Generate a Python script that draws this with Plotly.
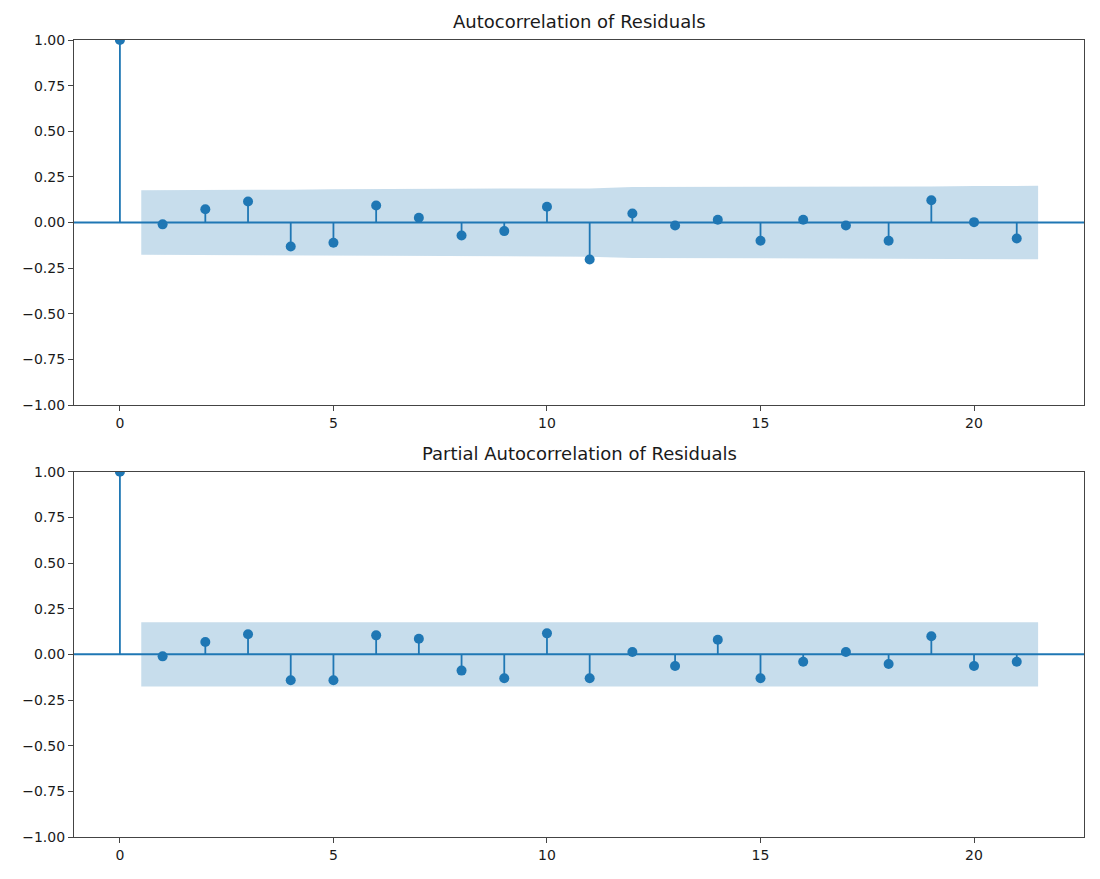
import plotly.graph_objects as go

# ---- data ----
lags = list(range(0, 22))
acf_vals = [1.0, -0.010, 0.073, 0.115, -0.131, -0.111, 0.093, 0.026, -0.071, -0.047,
            0.086, -0.203, 0.049, -0.016, 0.015, -0.100, 0.015, -0.016, -0.100, 0.122,
            0.002, -0.088]
pacf_vals = [1.0, -0.011, 0.068, 0.110, -0.142, -0.142, 0.104, 0.086, -0.089, -0.131,
             0.115, -0.131, 0.013, -0.064, 0.080, -0.131, -0.040, 0.013, -0.053, 0.099,
             -0.064, -0.040]
# confidence band half-widths for lags 1..21
acf_band = [0.177, 0.177, 0.178, 0.180, 0.182, 0.184, 0.185, 0.185, 0.186, 0.186,
            0.187, 0.194, 0.194, 0.194, 0.195, 0.196, 0.196, 0.196, 0.197, 0.200, 0.201]
pacf_band = [0.176] * 21
band_lags = [0.5] + list(range(2, 21)) + [21.5]

titles = ["Autocorrelation of Residuals", "Partial Autocorrelation of Residuals"]
x_ticks = [0, 5, 10, 15, 20]
y_ticks = [-1.0, -0.75, -0.5, -0.25, 0.0, 0.25, 0.5, 0.75, 1.0]

BLUE = "#1f77b4"
FONT = "DejaVu Sans"

fig = go.Figure()

panels = [
    (acf_vals, acf_band, "x", "y"),
    (pacf_vals, pacf_band, "x2", "y2"),
]

for vals, band, xa, ya in panels:
    # band
    bx = band_lags + band_lags[::-1]
    by = band + [-b for b in band[::-1]]
    fig.add_trace(go.Scatter(x=bx, y=by, fill="toself", mode="lines",
                             line=dict(width=0, color="rgba(31,119,180,0)"),
                             fillcolor="rgba(31,119,180,0.25)",
                             xaxis=xa, yaxis=ya, hoverinfo="skip", showlegend=False))
    # stems
    sx, sy = [], []
    for k, v in zip(lags, vals):
        sx += [k, k, None]
        sy += [0, v, None]
    fig.add_trace(go.Scatter(x=sx, y=sy, mode="lines", line=dict(color=BLUE, width=1.8),
                             xaxis=xa, yaxis=ya, showlegend=False, hoverinfo="skip"))
    # markers
    fig.add_trace(go.Scatter(x=lags, y=vals, mode="markers",
                             marker=dict(color=BLUE, size=10),
                             xaxis=xa, yaxis=ya, showlegend=False))
    # zero line
    fig.add_shape(type="line", xref=f"{xa} domain", yref=ya, x0=0, x1=1, y0=0, y1=0,
                  line=dict(color=BLUE, width=2))

axis_common = dict(showline=True, linecolor="#444", linewidth=1.1, mirror=True,
                   ticks="outside", ticklen=5, tickwidth=1, tickcolor="#444",
                   showgrid=False, zeroline=False,
                   tickfont=dict(family=FONT, size=14, color="#1a1a1a"))

fig.update_layout(
    width=1092, height=871,
    margin=dict(l=66, r=16, t=32, b=42),
    paper_bgcolor="white", plot_bgcolor="white",
    xaxis=dict(domain=[0, 1], anchor="y", range=[-1.075, 22.575], tickvals=x_ticks, **axis_common),
    yaxis=dict(domain=[0.542, 1], anchor="x", range=[-1, 1], tickvals=y_ticks,
               tickformat=".2f", **axis_common),
    xaxis2=dict(domain=[0, 1], anchor="y2", range=[-1.075, 22.575], tickvals=x_ticks, **axis_common),
    yaxis2=dict(domain=[0, 0.4583], anchor="x2", range=[-1, 1], tickvals=y_ticks,
                tickformat=".2f", **axis_common),
    annotations=[
        dict(text=titles[0], xref="x domain", yref="y domain", x=0.5, y=1,
             yshift=6, xanchor="center", yanchor="bottom", showarrow=False,
             font=dict(family=FONT, size=18, color="#1a1a1a")),
        dict(text=titles[1], xref="x2 domain", yref="y2 domain", x=0.5, y=1,
             yshift=6, xanchor="center", yanchor="bottom", showarrow=False,
             font=dict(family=FONT, size=18, color="#1a1a1a")),
    ],
)

fig.write_html("out.html")
